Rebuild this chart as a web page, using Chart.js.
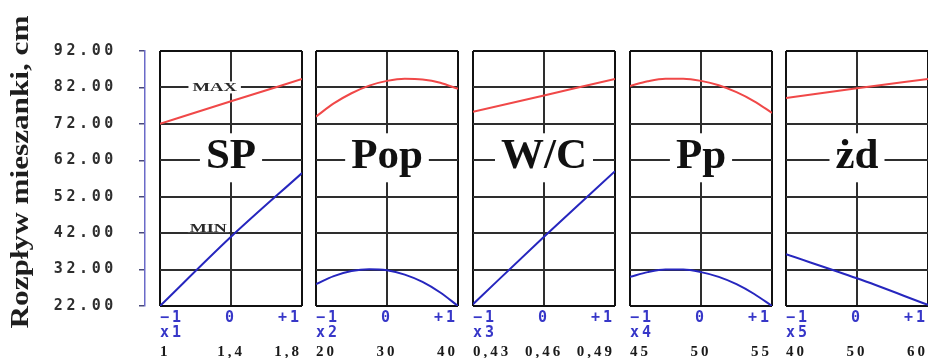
<!DOCTYPE html>
<html lang="pl">
<head>
<meta charset="UTF-8">
<title>Rozpływ mieszanki</title>
<script src="https://cdn.jsdelivr.net/npm/chart.js"></script>
<style>
    body { margin: 0; background: #fff; }
    #wrap { position: relative; width: 928px; height: 358px; overflow: hidden; background: #fff; }
    canvas { position: absolute; top: 0; }
</style>
</head>
<body>
<div id="wrap">
    <canvas id="axis" width="150" height="358" style="left:0px"></canvas>
</div>
<script>
    // coded factor levels
    const xLine = [-1, 0, 1];
    const xCurve = [-1, -0.75, -0.5, -0.25, 0, 0.25, 0.5, 0.75, 1];

    const factors = ['SP', 'Pop', 'W/C', 'Pp', 'żd'];
    const varNames = ['x1', 'x2', 'x3', 'x4', 'x5'];
    const codedTicks = ['−1', '0', '+1'];
    const naturalTicks = [
        ['1', '1,4', '1,8'],
        ['20', '30', '40'],
        ['0,43', '0,46', '0,49'],
        ['45', '50', '55'],
        ['40', '50', '60']
    ];
    const yMin = 22, yMax = 92, yStep = 10;

    // MAX (red) and MIN (blue) spread, cm
    const spMax = [72.0, 78.2, 84.3];
    const spMin = [22.0, 41.0, 58.5];
    const popMax = [74.0, 77.6, 80.4, 82.5, 83.8, 84.4, 84.2, 83.3, 81.6];
    const popMin = [28.0, 30.2, 31.6, 32.1, 31.8, 30.6, 28.6, 25.7, 22.0];
    const wcMax = [75.3, 79.8, 84.3];
    const wcMin = [22.5, 41.0, 59.0];
    const ppMax = [82.4, 83.7, 84.4, 84.4, 83.8, 82.6, 80.7, 78.2, 75.0];
    const ppMin = [30.0, 31.3, 32.0, 32.0, 31.3, 30.0, 28.0, 25.3, 22.0];
    const zdMax = [79.1, 81.8, 84.3];
    const zdMin = [36.2, 29.6, 22.3];

    const panelX = [xLine, xCurve, xLine, xCurve, xLine];
    const panelMax = [spMax, popMax, wcMax, ppMax, zdMax];
    const panelMin = [spMin, popMin, wcMin, ppMin, zdMin];

    // layout
    const panelLeft = [160, 316, 473, 630, 786];
    const panelWidth = 142;
    const PAD = 8;
    const TOP = 51;

    const RED = 'rgb(240, 72, 72)';
    const BLUE = 'rgb(38, 38, 190)';
    const TICKBLUE = 'rgb(55, 55, 200)';

    // wide-looking labels: spaced letters on the whole canvas
    const spacing = (px) => ({
        id: 'spacing',
        beforeDraw(chart) { chart.ctx.letterSpacing = px + 'px'; }
    });

    // stretched text helper
    function wideText(ctx, text, x, y, font, sx, align, baseline) {
        ctx.save();
        ctx.letterSpacing = '0px';
        ctx.font = font;
        ctx.translate(x, y);
        ctx.scale(sx, 1);
        ctx.textAlign = align;
        ctx.textBaseline = baseline;
        ctx.fillText(text, 0, 0);
        ctx.restore();
    }

    const yTitlePlugin = {
        id: 'yTitle',
        afterDraw(chart) {
            const ctx = chart.ctx;
            ctx.save();
            ctx.letterSpacing = '0px';
            ctx.translate(28, 172);
            ctx.rotate(-Math.PI / 2);
            ctx.scale(1.2, 1);
            ctx.font = 'bold 26px "Liberation Serif"';
            ctx.fillStyle = '#1e1e1e';
            ctx.textAlign = 'center';
            ctx.textBaseline = 'alphabetic';
            ctx.fillText('Rozpływ mieszanki, cm', 0, 0);
            ctx.restore();
        }
    };

    // factor name and MAX / MIN notes on white patches
    const panelTextPlugin = {
        id: 'panelText',
        beforeDatasetsDraw(chart, args, opts) {
            const ctx = chart.ctx;
            const xs = chart.scales.x, ys = chart.scales.y;
            const cx = xs.getPixelForValue(0);
            const ly = ys.getPixelForValue(62);

            ctx.save();
            ctx.letterSpacing = '0px';
            ctx.font = 'bold 43px "Liberation Serif"';
            const w = ctx.measureText(opts.title).width;
            ctx.fillStyle = '#fff';
            ctx.fillRect(cx - w / 2 - 6, ly - 27, w + 12, 49);
            ctx.fillStyle = '#111';
            ctx.textAlign = 'center';
            ctx.textBaseline = 'alphabetic';
            ctx.fillText(opts.title, cx, ly + 8);
            ctx.restore();

            (opts.notes || []).forEach(n => {
                const px = xs.getPixelForValue(n.x);
                const py = ys.getPixelForValue(n.y);
                const font = 'bold 12px "Liberation Serif"';
                ctx.save();
                ctx.letterSpacing = '0px';
                ctx.font = font;
                const tw = ctx.measureText(n.text).width * n.sx;
                ctx.fillStyle = '#fff';
                if (n.above) {
                    ctx.fillRect(px - tw / 2 - 2, py - 12, tw + 4, 11);
                } else {
                    ctx.fillRect(px - tw / 2 - 4, py - 6, tw + 8, 12);
                }
                ctx.fillStyle = '#2a2a2a';
                wideText(ctx, n.text, px, n.above ? py - 1 : py + 4, font, n.sx, 'center', 'alphabetic');
                ctx.restore();
            });
        }
    };

    // y axis (only the scale)
    new Chart(document.getElementById('axis'), {
        type: 'line',
        data: { datasets: [] },
        options: {
            animation: false,
            responsive: false,
            events: [],
            layout: { padding: { top: TOP, bottom: 358 - 306, left: 0, right: 4 } },
            plugins: { legend: { display: false }, tooltip: { enabled: false } },
            scales: {
                x: { type: 'linear', display: false, min: 0, max: 1 },
                y: {
                    min: yMin, max: yMax,
                    ticks: {
                        stepSize: yStep,
                        callback: v => v.toFixed(2),
                        font: { family: 'DejaVu Sans Mono', weight: 'bold', size: 15 },
                        color: '#2e2e2e',
                        padding: 22
                    },
                    grid: { drawOnChartArea: false, drawTicks: true, tickLength: 6, color: '#4a4a7a', lineWidth: 1.5 },
                    border: { display: true, color: '#6a6ac8', width: 1.5 },
                    afterFit: s => { s.width = 145; }
                }
            }
        },
        plugins: [spacing(3.6), yTitlePlugin]
    });

    const wrap = document.getElementById('wrap');
    factors.forEach((name, i) => {
        const cv = document.createElement('canvas');
        cv.width = panelWidth + 2 * PAD;
        cv.height = 358;
        cv.style.left = (panelLeft[i] - PAD) + 'px';
        wrap.appendChild(cv);

        const xs = panelX[i];
        const edge = c => (c.tick && (c.tick.value === -1 || c.tick.value === 1 || c.tick.value === yMin || c.tick.value === yMax)) ? '#111' : '#2e2e2e';

        new Chart(cv, {
            type: 'line',
            data: {
                datasets: [
                    {
                        label: 'MAX',
                        data: xs.map((x, k) => ({ x: x, y: panelMax[i][k] })),
                        borderColor: RED, borderWidth: 2, pointRadius: 0,
                        cubicInterpolationMode: 'monotone', fill: false
                    },
                    {
                        label: 'MIN',
                        data: xs.map((x, k) => ({ x: x, y: panelMin[i][k] })),
                        borderColor: BLUE, borderWidth: 2, pointRadius: 0,
                        cubicInterpolationMode: 'monotone', fill: false
                    }
                ]
            },
            options: {
                animation: false,
                responsive: false,
                events: [],
                layout: { padding: { top: TOP, bottom: 0, left: PAD, right: PAD } },
                plugins: {
                    legend: { display: false },
                    tooltip: { enabled: false },
                    panelText: {
                        title: name,
                        notes: i === 0 ? [
                            { text: 'MAX', x: -0.23, y: 82, sx: 1.55 },
                            { text: 'MIN', x: -0.32, y: 42, sx: 1.5, above: true }
                        ] : []
                    }
                },
                scales: {
                    x: {
                        type: 'linear', position: 'bottom', min: -1, max: 1,
                        ticks: {
                            stepSize: 1, autoSkip: false, maxRotation: 0, align: 'inner',
                            callback: (v, k) => codedTicks[k],
                            font: { family: 'DejaVu Sans Mono', weight: 'bold', size: 15 },
                            color: TICKBLUE, padding: 3
                        },
                        grid: { color: edge, lineWidth: 2, drawTicks: false },
                        border: { display: false },
                        title: {
                            display: true, text: varNames[i], align: 'start', color: TICKBLUE,
                            font: { family: 'DejaVu Sans Mono', weight: 'bold', size: 15 },
                            padding: { top: 0, bottom: 0 }
                        },
                        afterFit: s => { s.height = 36; }
                    },
                    xn: {
                        type: 'linear', position: 'bottom', min: -1, max: 1,
                        ticks: {
                            stepSize: 1, autoSkip: false, maxRotation: 0, align: 'inner',
                            callback: (v, k) => naturalTicks[i][k],
                            font: { family: 'Liberation Serif', weight: 'bold', size: 15 },
                            color: '#1a1a1a', padding: 1
                        },
                        grid: { display: false, drawTicks: false },
                        border: { display: false },
                        afterFit: s => { s.height = 16; }
                    },
                    y: {
                        min: yMin, max: yMax,
                        ticks: { display: false, stepSize: yStep },
                        grid: { color: edge, lineWidth: 2, drawTicks: false },
                        border: { display: false },
                        afterFit: s => { s.width = 0; }
                    }
                }
            },
            plugins: [spacing(3), panelTextPlugin]
        });
    });
</script>
</body>
</html>
